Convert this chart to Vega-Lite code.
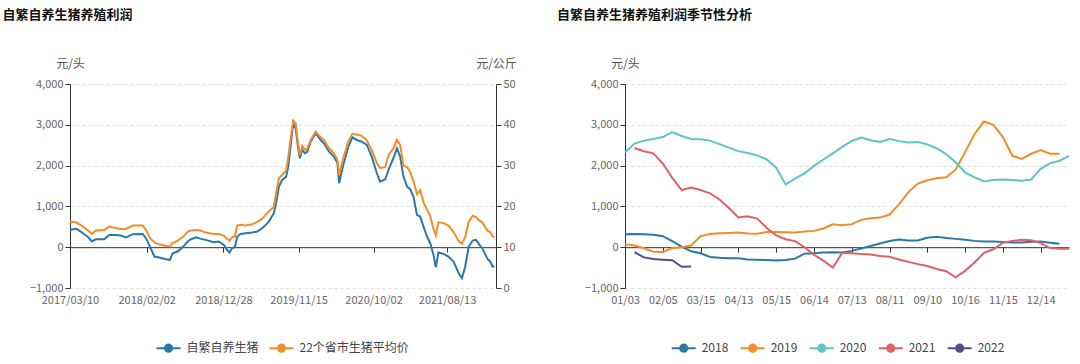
{
  "$schema": "https://vega.github.io/schema/vega-lite/v6.json",
  "padding": {"left": 2, "top": 9, "right": 0, "bottom": 0},
  "background": "white",
  "config": {
    "view": {"stroke": null},
    "font": "Noto Sans CJK SC",
    "axis": {"labelFont": "Noto Sans CJK SC", "labelFontSize": 11, "labelColor": "#666666", "titleFont": "Noto Sans CJK SC", "titleFontSize": 12, "titleFontWeight": "normal", "titleColor": "#555555", "domainColor": "#333333", "tickColor": "#333333", "tickSize": 5, "gridColor": "#e0e0e0", "gridDash": [3, 3], "labelOverlap": false},
    "legend": {"symbolType": "M-1,0H1M0.3,0A0.3,0.3,0,1,1,-0.3,0A0.3,0.3,0,1,1,0.3,0M0.2,0A0.2,0.2,0,1,1,-0.2,0A0.2,0.2,0,1,1,0.2,0M0.1,0A0.1,0.1,0,1,1,-0.1,0A0.1,0.1,0,1,1,0.1,0", "symbolSize": 576, "symbolStrokeWidth": 2, "labelFont": "Noto Sans CJK SC", "labelFontSize": 12, "labelColor": "#444444", "labelOffset": 5},
    "title": {"font": "Noto Sans CJK SC", "fontSize": 13, "fontWeight": "bold", "color": "#111111", "anchor": "start", "frame": "group"}
  },
  "datasets": {
    "L": [
      {"date": "2017-03-10", "profit": 424, "price": 16.29},
      {"date": "2017-03-24", "profit": 440, "price": 16.2},
      {"date": "2017-04-07", "profit": 450, "price": 16.04},
      {"date": "2017-05-05", "profit": 343, "price": 15.06},
      {"date": "2017-05-26", "profit": 250, "price": 14.1},
      {"date": "2017-06-12", "profit": 140, "price": 13.27},
      {"date": "2017-06-29", "profit": 196, "price": 14.08},
      {"date": "2017-08-04", "profit": 196, "price": 14.24},
      {"date": "2017-08-25", "profit": 300, "price": 15.06},
      {"date": "2017-09-20", "profit": 300, "price": 14.7},
      {"date": "2017-10-14", "profit": 285, "price": 14.49},
      {"date": "2017-11-05", "profit": 237, "price": 14.49},
      {"date": "2017-12-04", "profit": 318, "price": 15.3},
      {"date": "2018-01-16", "profit": 326, "price": 15.3},
      {"date": "2018-01-30", "profit": 220, "price": 14.24},
      {"date": "2018-02-16", "profit": 16, "price": 12.2},
      {"date": "2018-03-07", "profit": -228, "price": 11.2},
      {"date": "2018-03-28", "profit": -253, "price": 10.7},
      {"date": "2018-04-26", "profit": -294, "price": 10.3},
      {"date": "2018-05-13", "profit": -310, "price": 10.16},
      {"date": "2018-05-24", "profit": -147, "price": 11.0},
      {"date": "2018-06-15", "profit": -106, "price": 11.63},
      {"date": "2018-07-09", "profit": 16, "price": 12.61},
      {"date": "2018-07-28", "profit": 139, "price": 13.84},
      {"date": "2018-08-11", "profit": 196, "price": 14.08},
      {"date": "2018-09-02", "profit": 245, "price": 14.24},
      {"date": "2018-09-20", "profit": 210, "price": 14.1},
      {"date": "2018-10-12", "profit": 180, "price": 13.59},
      {"date": "2018-11-17", "profit": 122, "price": 13.26},
      {"date": "2018-12-08", "profit": 139, "price": 13.26},
      {"date": "2018-12-30", "profit": 57, "price": 12.77},
      {"date": "2019-01-13", "profit": -65, "price": 12.0},
      {"date": "2019-01-23", "profit": -130, "price": 11.6},
      {"date": "2019-02-03", "profit": -24, "price": 12.45},
      {"date": "2019-02-15", "profit": 0, "price": 12.61},
      {"date": "2019-02-25", "profit": 261, "price": 15.3},
      {"date": "2019-03-11", "profit": 326, "price": 15.47},
      {"date": "2019-04-02", "profit": 343, "price": 15.3},
      {"date": "2019-04-30", "profit": 359, "price": 15.6},
      {"date": "2019-05-22", "profit": 384, "price": 16.2},
      {"date": "2019-06-12", "profit": 465, "price": 17.0},
      {"date": "2019-06-27", "profit": 547, "price": 17.92},
      {"date": "2019-07-11", "profit": 628, "price": 18.8},
      {"date": "2019-08-01", "profit": 833, "price": 19.8},
      {"date": "2019-08-11", "profit": 1078, "price": 23.22},
      {"date": "2019-08-23", "profit": 1486, "price": 26.9},
      {"date": "2019-09-06", "profit": 1649, "price": 27.71},
      {"date": "2019-09-23", "profit": 1730, "price": 28.8},
      {"date": "2019-10-02", "profit": 1975, "price": 32.0},
      {"date": "2019-10-12", "profit": 2465, "price": 36.5},
      {"date": "2019-10-23", "profit": 3037, "price": 41.02},
      {"date": "2019-11-03", "profit": 2900, "price": 40.37},
      {"date": "2019-11-13", "profit": 2450, "price": 35.47},
      {"date": "2019-11-21", "profit": 2180, "price": 32.61},
      {"date": "2019-12-01", "profit": 2384, "price": 34.82},
      {"date": "2019-12-13", "profit": 2302, "price": 33.84},
      {"date": "2019-12-23", "profit": 2343, "price": 34.24},
      {"date": "2020-01-06", "profit": 2588, "price": 36.28},
      {"date": "2020-01-28", "profit": 2792, "price": 38.33},
      {"date": "2020-02-18", "profit": 2628, "price": 36.94},
      {"date": "2020-03-03", "profit": 2547, "price": 36.28},
      {"date": "2020-03-25", "profit": 2343, "price": 34.24},
      {"date": "2020-04-15", "profit": 2220, "price": 33.02},
      {"date": "2020-04-30", "profit": 2057, "price": 31.39},
      {"date": "2020-05-07", "profit": 1567, "price": 27.71},
      {"date": "2020-05-25", "profit": 2016, "price": 31.8},
      {"date": "2020-06-16", "profit": 2465, "price": 36.0},
      {"date": "2020-07-03", "profit": 2694, "price": 37.8},
      {"date": "2020-07-22", "profit": 2628, "price": 37.6},
      {"date": "2020-08-12", "profit": 2588, "price": 37.3},
      {"date": "2020-09-03", "profit": 2506, "price": 36.2},
      {"date": "2020-09-24", "profit": 2220, "price": 33.8},
      {"date": "2020-10-16", "profit": 1812, "price": 30.6},
      {"date": "2020-10-30", "profit": 1608, "price": 29.4},
      {"date": "2020-11-21", "profit": 1665, "price": 29.6},
      {"date": "2020-12-05", "profit": 1894, "price": 32.6},
      {"date": "2020-12-26", "profit": 2180, "price": 34.2},
      {"date": "2021-01-10", "profit": 2424, "price": 36.3},
      {"date": "2021-01-24", "profit": 2220, "price": 35.0},
      {"date": "2021-02-07", "profit": 1730, "price": 30.0},
      {"date": "2021-02-23", "profit": 1486, "price": 29.6},
      {"date": "2021-03-08", "profit": 1420, "price": 28.5},
      {"date": "2021-03-22", "profit": 1241, "price": 26.2},
      {"date": "2021-04-06", "profit": 792, "price": 23.0},
      {"date": "2021-04-20", "profit": 751, "price": 24.0},
      {"date": "2021-05-04", "profit": 506, "price": 21.0},
      {"date": "2021-05-19", "profit": 261, "price": 19.2},
      {"date": "2021-06-02", "profit": 98, "price": 17.6},
      {"date": "2021-06-16", "profit": -188, "price": 14.5},
      {"date": "2021-06-26", "profit": -490, "price": 12.9},
      {"date": "2021-07-07", "profit": -131, "price": 16.1},
      {"date": "2021-07-29", "profit": -163, "price": 15.9},
      {"date": "2021-08-19", "profit": -229, "price": 15.3},
      {"date": "2021-09-10", "profit": -351, "price": 13.7},
      {"date": "2021-10-02", "profit": -637, "price": 11.5},
      {"date": "2021-10-16", "profit": -759, "price": 10.8},
      {"date": "2021-10-30", "profit": -473, "price": 12.5},
      {"date": "2021-11-14", "profit": 16, "price": 16.2},
      {"date": "2021-12-01", "profit": 163, "price": 17.7},
      {"date": "2021-12-15", "profit": 180, "price": 17.4},
      {"date": "2021-12-30", "profit": 57, "price": 16.5},
      {"date": "2022-01-11", "profit": -24, "price": 16.1},
      {"date": "2022-01-25", "profit": -188, "price": 14.8},
      {"date": "2022-02-04", "profit": -300, "price": 14.0},
      {"date": "2022-02-14", "profit": -350, "price": 13.7},
      {"date": "2022-02-25", "profit": -480, "price": 12.6},
      {"date": "2022-03-04", "profit": -470, "price": 12.5}
    ],
    "S": [
      {"i": 0, "d": "01/03", "y": "2018", "v": 320}, {"i": 1, "d": "01/11", "y": "2018", "v": 325}, {"i": 2, "d": "01/19", "y": "2018", "v": 320}, {"i": 3, "d": "01/27", "y": "2018", "v": 305},
      {"i": 4, "d": "02/05", "y": "2018", "v": 270}, {"i": 5, "d": "02/14", "y": "2018", "v": 150}, {"i": 6, "d": "02/23", "y": "2018", "v": 16}, {"i": 7, "d": "03/06", "y": "2018", "v": -100},
      {"i": 8, "d": "03/15", "y": "2018", "v": -150}, {"i": 9, "d": "03/22", "y": "2018", "v": -240}, {"i": 10, "d": "03/29", "y": "2018", "v": -260}, {"i": 11, "d": "04/06", "y": "2018", "v": -270},
      {"i": 12, "d": "04/13", "y": "2018", "v": -270}, {"i": 13, "d": "04/21", "y": "2018", "v": -300}, {"i": 14, "d": "04/29", "y": "2018", "v": -310}, {"i": 15, "d": "05/07", "y": "2018", "v": -315},
      {"i": 16, "d": "05/15", "y": "2018", "v": -326}, {"i": 17, "d": "05/22", "y": "2018", "v": -315}, {"i": 18, "d": "05/30", "y": "2018", "v": -280}, {"i": 19, "d": "06/07", "y": "2018", "v": -160},
      {"i": 20, "d": "06/14", "y": "2018", "v": -147}, {"i": 21, "d": "06/21", "y": "2018", "v": -130}, {"i": 22, "d": "06/28", "y": "2018", "v": -122}, {"i": 23, "d": "07/06", "y": "2018", "v": -130},
      {"i": 24, "d": "07/13", "y": "2018", "v": -90}, {"i": 25, "d": "07/20", "y": "2018", "v": -30}, {"i": 26, "d": "07/27", "y": "2018", "v": 30}, {"i": 27, "d": "08/04", "y": "2018", "v": 90},
      {"i": 28, "d": "08/11", "y": "2018", "v": 150}, {"i": 29, "d": "08/18", "y": "2018", "v": 190}, {"i": 30, "d": "08/25", "y": "2018", "v": 165}, {"i": 31, "d": "09/02", "y": "2018", "v": 165},
      {"i": 32, "d": "09/10", "y": "2018", "v": 230}, {"i": 33, "d": "09/19", "y": "2018", "v": 255}, {"i": 34, "d": "09/28", "y": "2018", "v": 225}, {"i": 35, "d": "10/07", "y": "2018", "v": 204},
      {"i": 36, "d": "10/16", "y": "2018", "v": 180}, {"i": 37, "d": "10/23", "y": "2018", "v": 155}, {"i": 38, "d": "10/30", "y": "2018", "v": 140}, {"i": 39, "d": "11/07", "y": "2018", "v": 139},
      {"i": 40, "d": "11/15", "y": "2018", "v": 125}, {"i": 41, "d": "11/22", "y": "2018", "v": 114}, {"i": 42, "d": "11/29", "y": "2018", "v": 114}, {"i": 43, "d": "12/07", "y": "2018", "v": 135},
      {"i": 44, "d": "12/14", "y": "2018", "v": 139}, {"i": 45, "d": "12/21", "y": "2018", "v": 110}, {"i": 46, "d": "12/28", "y": "2018", "v": 82},

      {"i": 0, "d": "01/03", "y": "2019", "v": 73}, {"i": 1, "d": "01/11", "y": "2019", "v": 41}, {"i": 2, "d": "01/19", "y": "2019", "v": -25}, {"i": 3, "d": "01/27", "y": "2019", "v": -110},
      {"i": 4, "d": "02/05", "y": "2019", "v": -120}, {"i": 5, "d": "02/14", "y": "2019", "v": -20}, {"i": 6, "d": "02/23", "y": "2019", "v": 0}, {"i": 7, "d": "03/06", "y": "2019", "v": 40},
      {"i": 8, "d": "03/15", "y": "2019", "v": 270}, {"i": 9, "d": "03/22", "y": "2019", "v": 326}, {"i": 10, "d": "03/29", "y": "2019", "v": 343}, {"i": 11, "d": "04/06", "y": "2019", "v": 350},
      {"i": 12, "d": "04/13", "y": "2019", "v": 359}, {"i": 13, "d": "04/21", "y": "2019", "v": 335}, {"i": 14, "d": "04/29", "y": "2019", "v": 330}, {"i": 15, "d": "05/07", "y": "2019", "v": 375},
      {"i": 16, "d": "05/15", "y": "2019", "v": 370}, {"i": 17, "d": "05/22", "y": "2019", "v": 365}, {"i": 18, "d": "05/30", "y": "2019", "v": 360}, {"i": 19, "d": "06/07", "y": "2019", "v": 385},
      {"i": 20, "d": "06/14", "y": "2019", "v": 400}, {"i": 21, "d": "06/21", "y": "2019", "v": 460}, {"i": 22, "d": "06/28", "y": "2019", "v": 560}, {"i": 23, "d": "07/06", "y": "2019", "v": 540},
      {"i": 24, "d": "07/13", "y": "2019", "v": 565}, {"i": 25, "d": "07/20", "y": "2019", "v": 670}, {"i": 26, "d": "07/27", "y": "2019", "v": 710}, {"i": 27, "d": "08/04", "y": "2019", "v": 726},
      {"i": 28, "d": "08/11", "y": "2019", "v": 800}, {"i": 29, "d": "08/18", "y": "2019", "v": 1050}, {"i": 30, "d": "08/25", "y": "2019", "v": 1350}, {"i": 31, "d": "09/02", "y": "2019", "v": 1560},
      {"i": 32, "d": "09/10", "y": "2019", "v": 1640}, {"i": 33, "d": "09/19", "y": "2019", "v": 1690}, {"i": 34, "d": "09/28", "y": "2019", "v": 1714}, {"i": 35, "d": "10/07", "y": "2019", "v": 1900},
      {"i": 36, "d": "10/16", "y": "2019", "v": 2330}, {"i": 37, "d": "10/23", "y": "2019", "v": 2770}, {"i": 38, "d": "10/30", "y": "2019", "v": 3080}, {"i": 39, "d": "11/07", "y": "2019", "v": 3000},
      {"i": 40, "d": "11/15", "y": "2019", "v": 2700}, {"i": 41, "d": "11/22", "y": "2019", "v": 2240}, {"i": 42, "d": "11/29", "y": "2019", "v": 2165}, {"i": 43, "d": "12/07", "y": "2019", "v": 2290},
      {"i": 44, "d": "12/14", "y": "2019", "v": 2380}, {"i": 45, "d": "12/21", "y": "2019", "v": 2290}, {"i": 46, "d": "12/28", "y": "2019", "v": 2290},

      {"i": 0, "d": "01/03", "y": "2020", "v": 2318}, {"i": 1, "d": "01/11", "y": "2020", "v": 2540}, {"i": 2, "d": "01/19", "y": "2020", "v": 2612}, {"i": 3, "d": "01/27", "y": "2020", "v": 2650},
      {"i": 4, "d": "02/05", "y": "2020", "v": 2700}, {"i": 5, "d": "02/14", "y": "2020", "v": 2820}, {"i": 6, "d": "02/23", "y": "2020", "v": 2726}, {"i": 7, "d": "03/06", "y": "2020", "v": 2653},
      {"i": 8, "d": "03/15", "y": "2020", "v": 2645}, {"i": 9, "d": "03/22", "y": "2020", "v": 2612}, {"i": 10, "d": "03/29", "y": "2020", "v": 2525}, {"i": 11, "d": "04/06", "y": "2020", "v": 2440},
      {"i": 12, "d": "04/13", "y": "2020", "v": 2355}, {"i": 13, "d": "04/21", "y": "2020", "v": 2310}, {"i": 14, "d": "04/29", "y": "2020", "v": 2250}, {"i": 15, "d": "05/07", "y": "2020", "v": 2150},
      {"i": 16, "d": "05/15", "y": "2020", "v": 1950}, {"i": 17, "d": "05/22", "y": "2020", "v": 1540}, {"i": 18, "d": "05/30", "y": "2020", "v": 1680}, {"i": 19, "d": "06/07", "y": "2020", "v": 1810},
      {"i": 20, "d": "06/14", "y": "2020", "v": 1992}, {"i": 21, "d": "06/21", "y": "2020", "v": 2150}, {"i": 22, "d": "06/28", "y": "2020", "v": 2300}, {"i": 23, "d": "07/06", "y": "2020", "v": 2460},
      {"i": 24, "d": "07/13", "y": "2020", "v": 2604}, {"i": 25, "d": "07/20", "y": "2020", "v": 2690}, {"i": 26, "d": "07/27", "y": "2020", "v": 2620}, {"i": 27, "d": "08/04", "y": "2020", "v": 2580},
      {"i": 28, "d": "08/11", "y": "2020", "v": 2650}, {"i": 29, "d": "08/18", "y": "2020", "v": 2600}, {"i": 30, "d": "08/25", "y": "2020", "v": 2565}, {"i": 31, "d": "09/02", "y": "2020", "v": 2580},
      {"i": 32, "d": "09/10", "y": "2020", "v": 2520}, {"i": 33, "d": "09/19", "y": "2020", "v": 2420}, {"i": 34, "d": "09/28", "y": "2020", "v": 2280}, {"i": 35, "d": "10/07", "y": "2020", "v": 2080},
      {"i": 36, "d": "10/16", "y": "2020", "v": 1830}, {"i": 37, "d": "10/23", "y": "2020", "v": 1714}, {"i": 38, "d": "10/30", "y": "2020", "v": 1610}, {"i": 39, "d": "11/07", "y": "2020", "v": 1650},
      {"i": 40, "d": "11/15", "y": "2020", "v": 1660}, {"i": 41, "d": "11/22", "y": "2020", "v": 1650}, {"i": 42, "d": "11/29", "y": "2020", "v": 1630}, {"i": 43, "d": "12/07", "y": "2020", "v": 1660},
      {"i": 44, "d": "12/14", "y": "2020", "v": 1920}, {"i": 45, "d": "12/21", "y": "2020", "v": 2060}, {"i": 46, "d": "12/28", "y": "2020", "v": 2120}, {"i": 47, "d": "12/31", "y": "2020", "v": 2240},

      {"i": 1, "d": "01/11", "y": "2021", "v": 2430}, {"i": 2, "d": "01/19", "y": "2021", "v": 2350}, {"i": 3, "d": "01/27", "y": "2021", "v": 2300},
      {"i": 4, "d": "02/05", "y": "2021", "v": 2050}, {"i": 5, "d": "02/14", "y": "2021", "v": 1700}, {"i": 6, "d": "02/23", "y": "2021", "v": 1400}, {"i": 7, "d": "03/06", "y": "2021", "v": 1460},
      {"i": 8, "d": "03/15", "y": "2021", "v": 1400}, {"i": 9, "d": "03/22", "y": "2021", "v": 1320}, {"i": 10, "d": "03/29", "y": "2021", "v": 1170}, {"i": 11, "d": "04/06", "y": "2021", "v": 960},
      {"i": 12, "d": "04/13", "y": "2021", "v": 730}, {"i": 13, "d": "04/21", "y": "2021", "v": 760}, {"i": 14, "d": "04/29", "y": "2021", "v": 700}, {"i": 15, "d": "05/07", "y": "2021", "v": 470},
      {"i": 16, "d": "05/15", "y": "2021", "v": 290}, {"i": 17, "d": "05/22", "y": "2021", "v": 196}, {"i": 18, "d": "05/30", "y": "2021", "v": 150}, {"i": 19, "d": "06/07", "y": "2021", "v": 0},
      {"i": 20, "d": "06/14", "y": "2021", "v": -185}, {"i": 21, "d": "06/21", "y": "2021", "v": -330}, {"i": 22, "d": "06/28", "y": "2021", "v": -500}, {"i": 23, "d": "07/06", "y": "2021", "v": -135},
      {"i": 24, "d": "07/13", "y": "2021", "v": -150}, {"i": 25, "d": "07/20", "y": "2021", "v": -165}, {"i": 26, "d": "07/27", "y": "2021", "v": -180}, {"i": 27, "d": "08/04", "y": "2021", "v": -215},
      {"i": 28, "d": "08/11", "y": "2021", "v": -235}, {"i": 29, "d": "08/18", "y": "2021", "v": -300}, {"i": 30, "d": "08/25", "y": "2021", "v": -360}, {"i": 31, "d": "09/02", "y": "2021", "v": -415},
      {"i": 32, "d": "09/10", "y": "2021", "v": -460}, {"i": 33, "d": "09/19", "y": "2021", "v": -535}, {"i": 34, "d": "09/28", "y": "2021", "v": -590}, {"i": 35, "d": "10/07", "y": "2021", "v": -740},
      {"i": 36, "d": "10/16", "y": "2021", "v": -580}, {"i": 37, "d": "10/23", "y": "2021", "v": -375}, {"i": 38, "d": "10/30", "y": "2021", "v": -140}, {"i": 39, "d": "11/07", "y": "2021", "v": -50},
      {"i": 40, "d": "11/15", "y": "2021", "v": 110}, {"i": 41, "d": "11/22", "y": "2021", "v": 150}, {"i": 42, "d": "11/29", "y": "2021", "v": 180}, {"i": 43, "d": "12/07", "y": "2021", "v": 170},
      {"i": 44, "d": "12/14", "y": "2021", "v": 100}, {"i": 45, "d": "12/21", "y": "2021", "v": -20}, {"i": 46, "d": "12/28", "y": "2021", "v": -40}, {"i": 47, "d": "12/31", "y": "2021", "v": -40},

      {"i": 1, "d": "01/11", "y": "2022", "v": -120}, {"i": 2, "d": "01/19", "y": "2022", "v": -250}, {"i": 3, "d": "01/27", "y": "2022", "v": -290},
      {"i": 4, "d": "02/05", "y": "2022", "v": -305}, {"i": 5, "d": "02/14", "y": "2022", "v": -320}, {"i": 6, "d": "02/23", "y": "2022", "v": -480}, {"i": 7, "d": "03/06", "y": "2022", "v": -470}
    ]
  },
  "spacing": 129,
  "bounds": "flush",
  "resolve": {"scale": {"color": "independent", "x": "independent", "y": "independent"}, "legend": {"color": "independent"}},
  "hconcat": [
    {
      "width": 426,
      "height": 204,
      "title": {"text": "自繁自养生猪养殖利润", "dx": -67.5, "offset": 35},
      "data": {"name": "L"},
      "layer": [
        {
          "mark": {"type": "line", "strokeWidth": 2},
          "encoding": {
            "x": {"field": "date", "type": "temporal",
                  "scale": {"type": "utc", "domain": [{"year": 2017, "month": 3, "date": 10, "utc": true}, {"year": 2022, "month": 3, "date": 11, "utc": true}]},
                  "axis": {"orient": "bottom", "offset": -40.8, "labelPadding": 42, "labelFlush": false, "labelOverlap": false, "grid": false, "title": null,
                           "values": [{"year": 2017, "month": 3, "date": 10, "utc": true}, {"year": 2018, "month": 2, "date": 2, "utc": true}, {"year": 2018, "month": 12, "date": 28, "utc": true}, {"year": 2019, "month": 11, "date": 15, "utc": true}, {"year": 2020, "month": 10, "date": 2, "utc": true}, {"year": 2021, "month": 8, "date": 13, "utc": true}],
                           "labelExpr": "utcFormat(datum.value, '%Y/%m/%d')"}},
            "y": {"field": "profit", "type": "quantitative", "scale": {"domain": [-1000, 4000]},
                  "axis": {"orient": "left", "values": [-1000, 0, 1000, 2000, 3000, 4000], "format": ",.0f", "grid": true, "labelPadding": 2,
                           "title": "元/头", "titleAngle": 0, "titleX": 0, "titleY": -21, "titleAlign": "center", "titleBaseline": "middle"}},
            "color": {"datum": "自繁自养生猪", "scale": {"domain": ["自繁自养生猪", "22个省市生猪平均价"], "range": ["#2a78a8", "#f28d28"]},
                      "legend": {"orient": "none", "legendX": 85.5, "legendY": 251, "direction": "horizontal", "title": null, "columnPadding": 6}}
          }
        },
        {
          "mark": {"type": "line", "strokeWidth": 2},
          "encoding": {
            "x": {"field": "date", "type": "temporal",
                  "scale": {"type": "utc", "domain": [{"year": 2017, "month": 3, "date": 10, "utc": true}, {"year": 2022, "month": 3, "date": 11, "utc": true}]},
                  "axis": {"orient": "bottom", "offset": -40.8, "labelPadding": 42, "labelFlush": false, "labelOverlap": false, "grid": false, "title": null,
                           "values": [{"year": 2017, "month": 3, "date": 10, "utc": true}, {"year": 2018, "month": 2, "date": 2, "utc": true}, {"year": 2018, "month": 12, "date": 28, "utc": true}, {"year": 2019, "month": 11, "date": 15, "utc": true}, {"year": 2020, "month": 10, "date": 2, "utc": true}, {"year": 2021, "month": 8, "date": 13, "utc": true}],
                           "labelExpr": "utcFormat(datum.value, '%Y/%m/%d')"}},
            "y": {"field": "price", "type": "quantitative", "scale": {"domain": [0, 50]},
                  "axis": {"orient": "right", "values": [0, 10, 20, 30, 40, 50], "grid": false, "labelPadding": 2,
                           "title": "元/公斤", "titleAngle": 0, "titleX": 0, "titleY": -21, "titleAlign": "center", "titleBaseline": "middle"}},
            "color": {"datum": "22个省市生猪平均价", "scale": {"domain": ["自繁自养生猪", "22个省市生猪平均价"], "range": ["#2a78a8", "#f28d28"]},
                      "legend": {"orient": "none", "legendX": 85.5, "legendY": 251, "direction": "horizontal", "title": null, "columnPadding": 6}}
          }
        }
      ],
      "resolve": {"scale": {"y": "independent"}}
    },
    {
      "width": 444,
      "height": 204,
      "title": {"text": "自繁自养生猪养殖利润季节性分析", "dx": -68, "offset": 35},
      "data": {"name": "S"},
      "mark": {"type": "line", "strokeWidth": 2},
      "encoding": {
        "x": {"field": "i", "type": "quantitative",
              "scale": {"domain": [0, 47], "nice": false, "zero": false},
              "axis": {"orient": "bottom", "offset": -40.8, "labelPadding": 42, "labelAngle": 0, "labelOverlap": false, "labelFlush": false, "grid": false, "title": null,
                       "values": [0, 4, 8, 12, 16, 20, 24, 28, 32, 36, 40, 44],
                       "labelExpr": "['01/03','02/05','03/15','04/13','05/15','06/14','07/13','08/11','09/10','10/16','11/15','12/14'][round(datum.value / 4)]"}},
        "y": {"field": "v", "type": "quantitative", "scale": {"domain": [-1000, 4000]},
              "axis": {"orient": "left", "values": [-1000, 0, 1000, 2000, 3000, 4000], "format": ",.0f", "grid": true, "labelPadding": 2,
                       "title": "元/头", "titleAngle": 0, "titleX": 0, "titleY": -21, "titleAlign": "center", "titleBaseline": "middle"}},
        "color": {"field": "y", "type": "nominal",
                  "scale": {"domain": ["2018", "2019", "2020", "2021", "2022"], "range": ["#2a78a8", "#f28d28", "#5fc3c8", "#e0606a", "#4b508c"]},
                  "legend": {"orient": "none", "legendX": 45.7, "legendY": 251, "direction": "horizontal", "title": null, "columnPadding": 8}}
      }
    }
  ]
}
